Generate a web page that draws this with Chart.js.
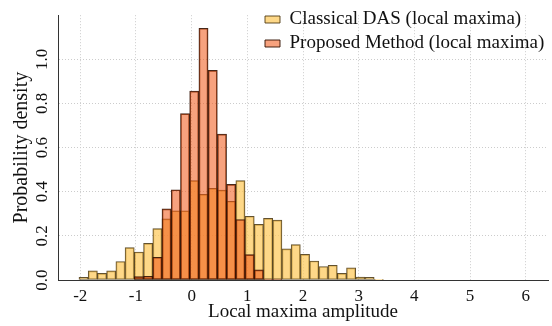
<!DOCTYPE html>
<html lang="en">
<head>
<meta charset="UTF-8">
<title>Local maxima amplitude histogram</title>
<script src="https://cdn.jsdelivr.net/npm/chart.js"></script>
<style>
  html, body { margin: 0; padding: 0; background: #fff; }
  #wrap { width: 552px; height: 326px; }
</style>
</head>
<body>
<div id="wrap"><canvas id="histChart"></canvas></div>
<script>
// histogram bin centres (bin width ~0.166)
const binCenters = [
  -1.941, -1.775, -1.610, -1.444, -1.278, -1.113, -0.947, -0.781, -0.615, -0.450,
  -0.284, -0.118, 0.047, 0.213, 0.379, 0.545, 0.710, 0.876, 1.042, 1.207,
  1.373, 1.539, 1.704, 1.870, 2.036, 2.201, 2.367, 2.533, 2.699, 2.864,
  3.030, 3.196, 3.361
];
const classicalDAS = [
  0.012, 0.041, 0.030, 0.041, 0.084, 0.147, 0.127, 0.166, 0.233, 0.277,
  0.314, 0.314, 0.450, 0.388, 0.415, 0.407, 0.357, 0.450, 0.289, 0.252,
  0.279, 0.271, 0.141, 0.160, 0.116, 0.086, 0.061, 0.067, 0.030, 0.055,
  0.013, 0.012, 0.003
];
const proposedMethod = [
  0, 0, 0, 0, 0, 0, 0.015, 0.017, 0.103, 0.322,
  0.409, 0.754, 0.856, 1.141, 0.950, 0.661, 0.433, 0.274, 0.115, 0.046,
  0.004, 0.004, 0, 0, 0, 0, 0, 0, 0, 0,
  0, 0, 0
];
const seriesLabels = ['Classical DAS (local maxima)', 'Proposed Method (local maxima)'];
const xTicks = [-2, -1, 0, 1, 2, 3, 4, 5, 6];
const yTicks = [0, 0.2, 0.4, 0.6, 0.8, 1.0];

const serif = 'Liberation Serif';

// put the legend inside the top right of the plot
const legendInside = {
  id: 'legendInside',
  afterLayout(chart) {
    const lg = chart.legend;
    lg.left = chart.chartArea.right - 288;
    lg.top = 5;
  }
};

const ctx = document.getElementById('histChart').getContext('2d');
new Chart(ctx, {
  type: 'bar',
  data: {
    datasets: [{
      label: seriesLabels[0],
      data: binCenters.map((x, i) => ({ x: x, y: classicalDAS[i] })),
      backgroundColor: 'rgba(253, 200, 85, 0.7)',
      borderColor: 'rgba(70, 50, 10, 0.85)',
      borderWidth: 1,
      borderSkipped: false,
      grouped: false,
      order: 1,
      barPercentage: 1,
      categoryPercentage: 1
    }, {
      label: seriesLabels[1],
      data: binCenters.map((x, i) => ({ x: x, y: proposedMethod[i] })),
      backgroundColor: 'rgba(240, 85, 20, 0.55)',
      borderColor: 'rgba(50, 15, 0, 0.9)',
      borderWidth: 1,
      borderSkipped: false,
      grouped: false,
      order: 0,
      barPercentage: 1,
      categoryPercentage: 1
    }]
  },
  options: {
    responsive: true,
    maintainAspectRatio: false,
    animation: false,
    devicePixelRatio: 1,
    layout: { padding: { top: 10, right: 4, left: 0, bottom: 0 } },
    plugins: {
      tooltip: { enabled: false },
      legend: {
        position: 'chartArea',
        align: 'start',
        labels: {
          font: { family: serif, size: 19 },
          color: '#111',
          boxWidth: 15,
          boxHeight: 7,
          padding: 5,
          sort: (a, b) => a.datasetIndex - b.datasetIndex
        }
      }
    },
    scales: {
      x: {
        type: 'linear',
        min: -2.4,
        max: 6.4,
        offset: false,
        afterBuildTicks: (scale) => { scale.ticks = xTicks.map(v => ({ value: v })); },
        afterFit: (scale) => { scale.height = 46; },
        ticks: {
          font: { family: serif, size: 17 },
          color: '#111',
          padding: 6,
          callback: (v) => String(v)
        },
        grid: { color: '#cccccc', drawTicks: false, offset: false },
        border: { display: true, color: '#333', width: 1, dash: [1, 2] },
        title: {
          display: true,
          text: 'Local maxima amplitude',
          font: { family: serif, size: 19 },
          color: '#111',
          padding: { top: 0, bottom: 3 }
        }
      },
      y: {
        min: 0,
        max: 1.2,
        afterBuildTicks: (scale) => { scale.ticks = yTicks.map(v => ({ value: v })); },
        afterFit: (scale) => { scale.width = 58; },
        ticks: {
          font: { family: serif, size: 17 },
          color: '#111',
          padding: 5,
          minRotation: 90,
          maxRotation: 90,
          crossAlign: 'center',
          callback: (v) => v.toFixed(1)
        },
        grid: { color: '#cccccc', drawTicks: false },
        border: { display: true, color: '#333', width: 1, dash: [1, 2] },
        title: {
          display: true,
          text: 'Probability density',
          font: { family: serif, size: 20 },
          color: '#111',
          padding: { top: 10, bottom: 0 }
        }
      }
    }
  },
  plugins: [legendInside]
});
</script>
</body>
</html>
